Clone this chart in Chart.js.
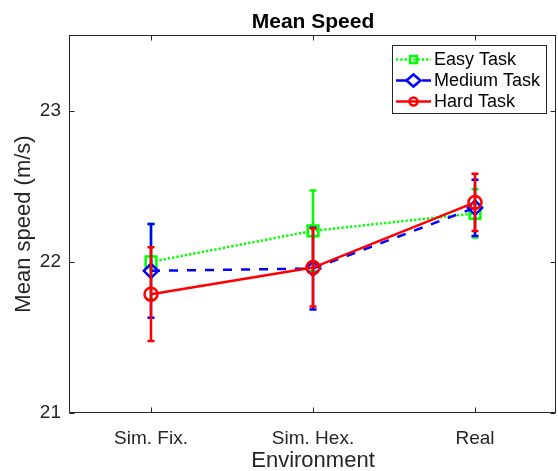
<!DOCTYPE html>
<html>
<head>
<meta charset="utf-8">
<script src="https://cdn.jsdelivr.net/npm/chart.js@4/dist/chart.umd.min.js"></script>
<style>
  html, body { margin: 0; padding: 0; background: #fff; }
  canvas { display: block; }
</style>
</head>
<body>
<canvas id="c" width="558" height="471"></canvas>
<script>
// ---- data ----
const categories = ['Sim. Fix.', 'Sim. Hex.', 'Real'];
const easyMean   = [22.00, 22.205, 22.32];
const easyErr    = [0.25, 0.267, 0.16];
const mediumMean = [21.94, 21.955, 22.357];
const mediumErr  = [0.31, 0.27, 0.186];
const hardMean   = [21.786, 21.962, 22.393];
const hardErr    = [0.31, 0.258, 0.19];
const yTicks     = [21, 22, 23];
const chartTitle = 'Mean Speed';
const xTitle     = 'Environment';
const yTitle     = 'Mean speed (m/s)';

const FONT = "'Liberation Sans', Arial, Helvetica, sans-serif";
const AXIS_COLOR = '#262626';
const LW = 2.5;

Chart.defaults.font.family = FONT;

function drawMarker(ctx, style, x, y, r, hw, hh) {
  ctx.beginPath();
  if (style === 'rect') {
    ctx.rect(x - r, y - r, 2 * r, 2 * r);
  } else if (style === 'rectRot') {
    ctx.moveTo(x - hw, y); ctx.lineTo(x, y - hh); ctx.lineTo(x + hw, y); ctx.lineTo(x, y + hh); ctx.closePath();
  } else {
    ctx.arc(x, y, r, 0, Math.PI * 2);
  }
  ctx.stroke();
}

const errorBarPlugin = {
  id: 'errorBars',
  beforeDatasetDraw(chart, args) {
    const ds = chart.data.datasets[args.index];
    const ys = chart.scales.y;
    const ctx = chart.ctx;
    ctx.save();
    ctx.strokeStyle = ds.borderColor;
    ctx.lineWidth = LW;
    ctx.setLineDash([]);
    args.meta.data.forEach((pt, i) => {
      const v = ds.data[i], e = ds.errors[i];
      const yT = ys.getPixelForValue(v + e), yB = ys.getPixelForValue(v - e);
      const x = pt.x;
      ctx.beginPath();
      ctx.moveTo(x, yT); ctx.lineTo(x, yB);
      ctx.moveTo(x - 3.5, yT); ctx.lineTo(x + 3.5, yT);
      ctx.moveTo(x - 3.5, yB); ctx.lineTo(x + 3.5, yB);
      ctx.stroke();
    });
    ctx.restore();
  }
};

const framePlugin = {
  id: 'frame',
  afterDraw(chart) {
    const ctx = chart.ctx;
    const a = chart.chartArea;
    const L = Math.round(a.left) - 0.5, R = Math.round(a.right) - 0.5;
    const T = Math.round(a.top) + 0.5, B = Math.round(a.bottom) - 0.5;
    ctx.save();
    ctx.strokeStyle = AXIS_COLOR;
    ctx.lineWidth = 1;
    ctx.strokeRect(L, T, R - L, B - T);
    // inward ticks
    const tl = 5;
    ctx.beginPath();
    chart.scales.x.ticks.forEach((t, i) => {
      const x = Math.round(chart.scales.x.getPixelForTick(i)) + 0.5;
      ctx.moveTo(x, B); ctx.lineTo(x, B - tl);
      ctx.moveTo(x, T); ctx.lineTo(x, T + tl);
    });
    chart.scales.y.ticks.forEach((t) => {
      const y = Math.round(chart.scales.y.getPixelForValue(t.value)) + 0.5;
      ctx.moveTo(L, y); ctx.lineTo(L + tl, y);
      ctx.moveTo(R, y); ctx.lineTo(R - tl, y);
    });
    ctx.stroke();

    // title
    ctx.fillStyle = '#000';
    ctx.font = 'bold 21px ' + FONT;
    ctx.textAlign = 'center';
    ctx.textBaseline = 'alphabetic';
    ctx.fillText(chartTitle, (a.left + a.right) / 2, 28);

    // legend
    const bx = 392.5, by = 45.5, bw = 154, bh = 68;
    ctx.fillStyle = '#fff';
    ctx.fillRect(bx, by, bw, bh);
    ctx.strokeStyle = AXIS_COLOR;
    ctx.lineWidth = 1;
    ctx.strokeRect(bx, by, bw, bh);
    const rows = [59.5, 80.5, 101.5];
    const lsizes = [{r: 3.5}, {hw: 7, hh: 6}, {r: 4}];
    const legendDash = [[2.3, 2], [11, 15], []];
    chart.data.datasets.forEach((ds, i) => {
      const y = rows[i];
      ctx.strokeStyle = ds.borderColor;
      ctx.lineWidth = LW;
      ctx.setLineDash(legendDash[i]);
      ctx.beginPath();
      ctx.moveTo(396, y); ctx.lineTo(431, y);
      ctx.stroke();
      ctx.setLineDash([]);
      const s = lsizes[i];
      drawMarker(ctx, ds.pointStyle, 413.5, y, s.r, s.hw, s.hh);
      ctx.fillStyle = '#000';
      ctx.font = '18px ' + FONT;
      ctx.textAlign = 'left';
      ctx.textBaseline = 'middle';
      ctx.fillText(ds.label, 434, y + 1);
    });
    ctx.restore();
  }
};

new Chart(document.getElementById('c'), {
  type: 'line',
  data: {
    labels: categories,
    datasets: [
      {
        label: 'Easy Task', data: easyMean, errors: easyErr,
        borderColor: '#00ff00', borderWidth: LW, borderDash: [2.3, 2],
        pointStyle: 'rect', pointRadius: 7.6, pointBorderWidth: LW,
        pointBorderColor: '#00ff00', pointBackgroundColor: 'rgba(0,0,0,0)',
        tension: 0, fill: false, order: 2
      },
      {
        label: 'Medium Task', data: mediumMean, errors: mediumErr,
        borderColor: '#0000ff', borderWidth: LW, borderDash: [9, 9],
        pointStyle: 'rectRot', pointRadius: 7.2, pointBorderWidth: LW,
        pointBorderColor: '#0000ff', pointBackgroundColor: 'rgba(0,0,0,0)',
        tension: 0, fill: false, order: 1
      },
      {
        label: 'Hard Task', data: hardMean, errors: hardErr,
        borderColor: '#ff0000', borderWidth: LW,
        pointStyle: 'circle', pointRadius: 6.5, pointBorderWidth: LW,
        pointBorderColor: '#ff0000', pointBackgroundColor: 'rgba(0,0,0,0)',
        tension: 0, fill: false, order: 0
      }
    ]
  },
  options: {
    responsive: false,
    animation: false,
    devicePixelRatio: 1,
    layout: { padding: { top: 35, right: 2, left: 0, bottom: 0 }, autoPadding: false },
    plugins: {
      legend: { display: false },
      title: { display: false },
      tooltip: { enabled: false }
    },
    scales: {
      x: {
        type: 'category',
        offset: true,
        grid: { display: false, drawTicks: false },
        border: { display: false },
        ticks: { color: AXIS_COLOR, font: { size: 19 }, padding: 14, maxRotation: 0 },
        title: { display: true, text: xTitle, color: AXIS_COLOR, font: { size: 22, lineHeight: 1 }, padding: { top: 0, bottom: -1 } },
        afterFit(s) { s.height = 58; s.paddingLeft = 0; s.paddingRight = 0; }
      },
      y: {
        min: 21, max: 23.5,
        afterBuildTicks(s) { s.ticks = yTicks.map(v => ({ value: v })); },
        grid: { display: false, drawTicks: false },
        border: { display: false },
        ticks: { color: AXIS_COLOR, font: { size: 19 }, padding: 9 },
        title: { display: true, text: yTitle, color: AXIS_COLOR, font: { size: 22, lineHeight: 1 }, padding: { top: 13, bottom: 0 } },
        afterFit(s) { s.width = 70; s.paddingTop = 0; s.paddingBottom = 0; }
      }
    }
  },
  plugins: [errorBarPlugin, framePlugin]
});
</script>
</body>
</html>
